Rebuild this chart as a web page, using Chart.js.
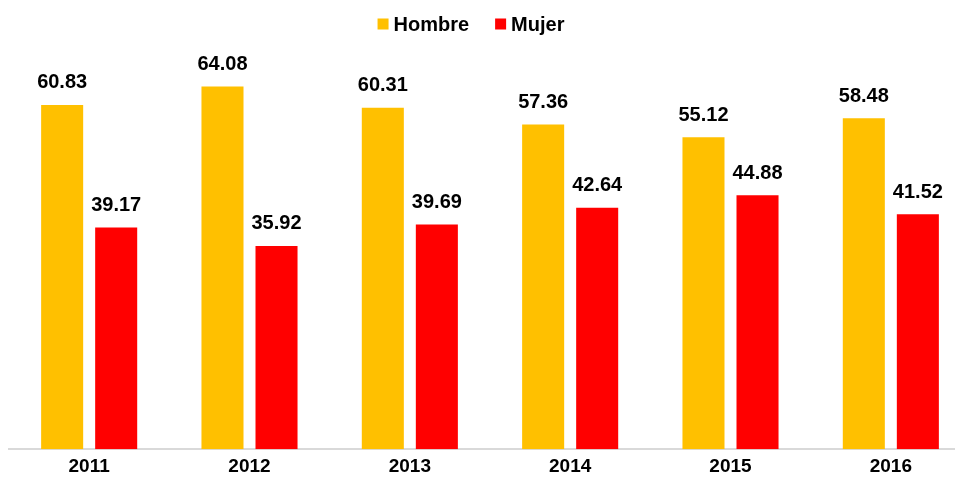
<!DOCTYPE html>
<html>
<head>
<meta charset="utf-8">
<script src="https://cdn.jsdelivr.net/npm/chart.js@4.4.0/dist/chart.umd.min.js"></script>
<style>
  html, body { margin: 0; padding: 0; background: #fff; overflow: hidden; }
  #wrap { width: 971px; height: 483px; }
</style>
</head>
<body>
<div id="wrap"><canvas id="chart"></canvas></div>
<script>
const years = ['2011', '2012', '2013', '2014', '2015', '2016'];
const hombre = [60.83, 64.08, 60.31, 57.36, 55.12, 58.48];
const mujer = [39.17, 35.92, 39.69, 42.64, 44.88, 41.52];

const FONT = '"Liberation Sans", Arial, sans-serif';

// draws value labels above each bar
const valueLabels = {
    id: 'valueLabels',
    afterDatasetsDraw(chart) {
        const {ctx} = chart;
        ctx.save();
        ctx.font = 'bold 20px ' + FONT;
        ctx.fillStyle = '#000';
        ctx.textAlign = 'center';
        ctx.textBaseline = 'middle';
        chart.data.datasets.forEach((ds, i) => {
            chart.getDatasetMeta(i).data.forEach((bar, j) => {
                ctx.fillText(ds.data[j].toFixed(2), bar.x, bar.y - 22);
            });
        });
        ctx.restore();
    }
};

// compact legend at the top, text close to the square
const topLegend = {
    id: 'topLegend',
    afterDraw(chart) {
        const {ctx} = chart;
        const box = 11, gap = 5, between = 26, centerX = 471, midY = 24;
        ctx.save();
        ctx.font = 'bold 20px ' + FONT;
        ctx.textBaseline = 'middle';
        const items = chart.data.datasets.map(ds => ({
            label: ds.label, color: ds.backgroundColor,
            w: box + gap + ctx.measureText(ds.label).width
        }));
        const total = items.reduce((s, it) => s + it.w, 0) + between * (items.length - 1);
        let x = centerX - total / 2;
        items.forEach(it => {
            ctx.fillStyle = it.color;
            ctx.fillRect(x, midY - box / 2, box, box);
            ctx.fillStyle = '#000';
            ctx.fillText(it.label, x + box + gap, midY + 1);
            x += it.w + between;
        });
        ctx.restore();
    }
};

new Chart(document.getElementById('chart'), {
    type: 'bar',
    data: {
        labels: years,
        datasets: [
            {label: 'Hombre', data: hombre, backgroundColor: '#FFC000'},
            {label: 'Mujer', data: mujer, backgroundColor: '#FF0000'}
        ]
    },
    options: {
        responsive: true,
        maintainAspectRatio: false,
        animation: false,
        layout: {padding: {left: 9, right: 0, top: 53, bottom: 7}},
        datasets: {bar: {categoryPercentage: 0.674, barPercentage: 0.778}},
        plugins: {
            legend: {display: false},
            tooltip: {enabled: false}
        },
        scales: {
            x: {
                grid: {display: false},
                border: {color: '#d9d9d9', width: 2},
                ticks: {color: '#000', padding: -2, font: {family: FONT, size: 19, weight: 'bold'}}
            },
            y: {
                display: false,
                min: 0, max: 70
            }
        }
    },
    plugins: [valueLabels, topLegend]
});
</script>
</body>
</html>
